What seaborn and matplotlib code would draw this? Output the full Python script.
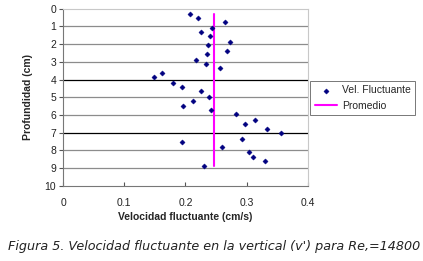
import pandas as pd
import matplotlib.pyplot as plt
import seaborn as sns

# Values
velocidad = [0.208, 0.221, 0.264, 0.243, 0.225, 0.240, 0.272, 0.237, 0.267, 0.235,
             0.217, 0.234, 0.257, 0.161, 0.148, 0.179, 0.195, 0.225, 0.238, 0.212,
             0.196, 0.241, 0.282, 0.313, 0.297, 0.333, 0.356, 0.293, 0.195, 0.260,
             0.304, 0.311, 0.330, 0.231]
profundidad = [0.30, 0.51, 0.75, 1.07, 1.32, 1.52, 1.86, 2.07, 2.37, 2.58,
               2.92, 3.10, 3.37, 3.63, 3.88, 4.18, 4.44, 4.67, 4.97, 5.20,
               5.48, 5.74, 5.97, 6.27, 6.50, 6.80, 7.04, 7.34, 7.55, 7.83,
               8.10, 8.36, 8.60, 8.89]
promedio = 0.247
x_ticks = [0, 0.1, 0.2, 0.3, 0.4]
y_ticks = list(range(0, 11))

df = pd.DataFrame({'v': velocidad, 'z': profundidad})
df_prom = pd.DataFrame({'v': [promedio, promedio],
                        'z': [profundidad[0], profundidad[-1]]})

sns.set_style('white')
plt.rcParams['font.family'] = ['Liberation Sans', 'DejaVu Sans']

fig = plt.figure(figsize=(4.23, 2.61), dpi=100)
ax = fig.add_axes([0.149, 0.2885, 0.579, 0.678])

# grid lines (4 and 7 look darker in the original)
for yv in y_ticks[1:-1]:
    col = '#000000' if yv in (4, 7) else '#8c8c8c'
    ax.axhline(yv, color=col, lw=0.9, zorder=0)

sns.scatterplot(data=df, x='v', y='z', ax=ax, marker='D', s=7, color='#000080',
                edgecolor='#000080', linewidth=0.3, label='Vel. Fluctuante', zorder=3)
sns.lineplot(data=df_prom, x='v', y='z', ax=ax, orient='y', sort=False, estimator=None,
             color='#ff00ff', lw=1.5, label='Promedio', zorder=2)

ax.set_xlim(0, 0.4)
ax.set_ylim(10, 0)
ax.set_xticks(x_ticks)
ax.set_xticklabels(['0', '0.1', '0.2', '0.3', '0.4'])
ax.set_yticks(y_ticks)
ax.tick_params(axis='x', direction='in', length=3, pad=9, labelsize=7.5, color='#555555', labelcolor='#222222')
ax.tick_params(axis='y', direction='out', length=3, pad=2, labelsize=7.5, color='#555555', labelcolor='#222222')
ax.tick_params(axis='x', which='both', bottom=True)
ax.tick_params(axis='y', which='both', left=True)

for side in ['top', 'right']:
    ax.spines[side].set_color('#c8c8c8')
    ax.spines[side].set_linewidth(0.8)
for side in ['left', 'bottom']:
    ax.spines[side].set_color('#777777')
    ax.spines[side].set_linewidth(0.8)

ax.set_xlabel('Velocidad fluctuante (cm/s)', fontsize=7.5, fontweight='bold', labelpad=3)
ax.set_ylabel('Profundidad (cm)', fontsize=7.5, fontweight='bold', labelpad=8)

leg = ax.legend(loc='upper left', bbox_to_anchor=(1.01, 0.59), frameon=True, fontsize=7.5,
                borderpad=0.4, handlelength=2.2, handletextpad=0.4, labelspacing=0.5,
                fancybox=False, borderaxespad=0)
leg.get_frame().set_edgecolor('#555555')
leg.get_frame().set_linewidth(0.7)

fig.text(0.0190, 0.054, "Figura 5. Velocidad fluctuante en la vertical (v') para Re,=14800",
         fontsize=9.2, style='italic', family='DejaVu Sans', color='#222222', ha='left', va='center')

fig.savefig('out.png', dpi=100)
